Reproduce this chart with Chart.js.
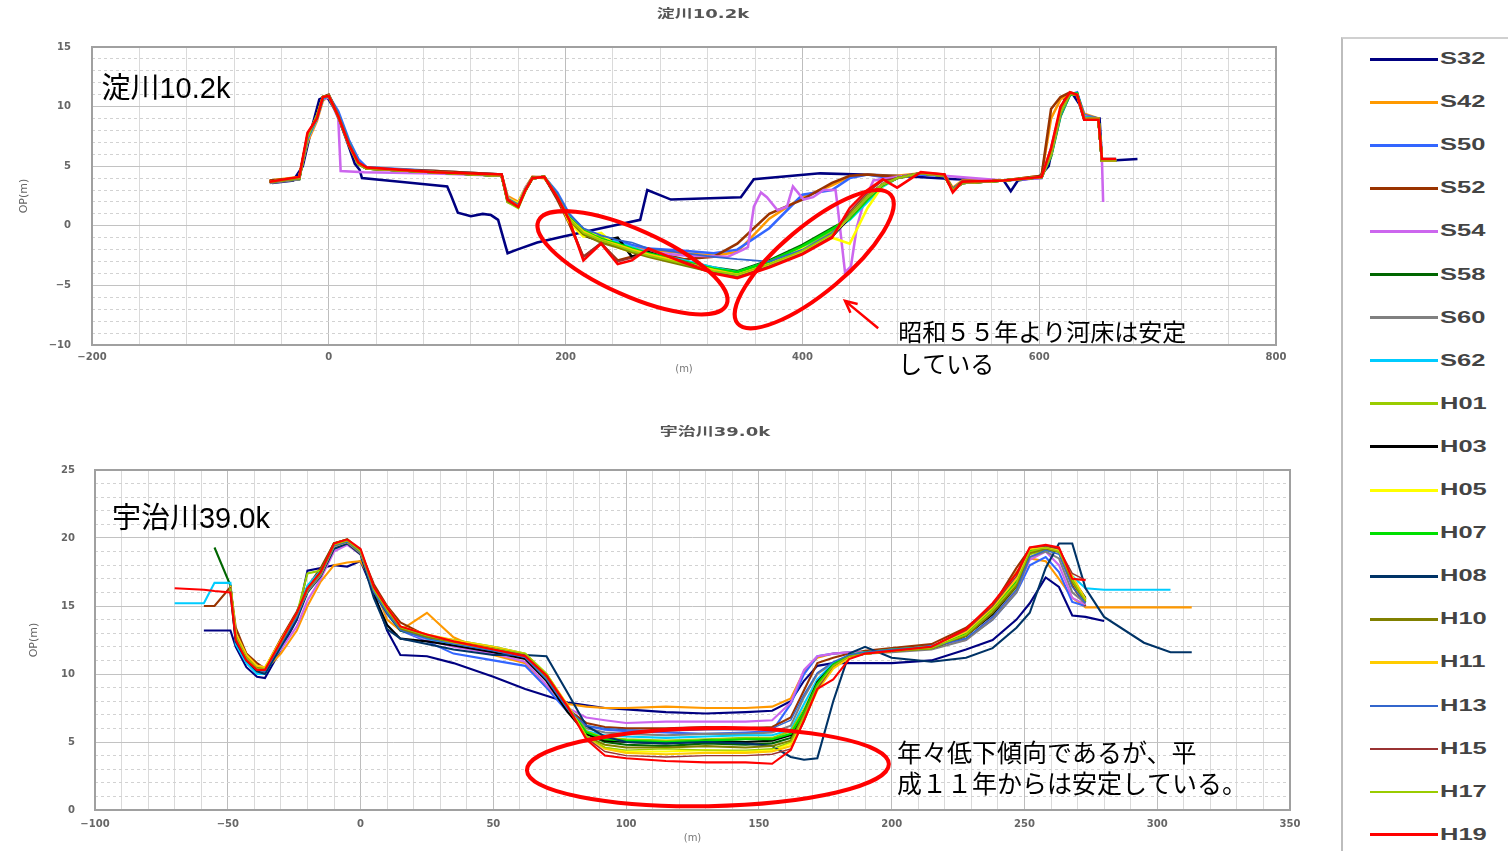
<!DOCTYPE html>
<html lang="ja">
<head>
<meta charset="utf-8">
<title>淀川10.2k・宇治川39.0k 横断図</title>
<script src="https://cdn.jsdelivr.net/npm/chart.js@4.4.0/dist/chart.umd.min.js"></script>
<style>
  html, body { margin: 0; padding: 0; background: #fff; }
  body { width: 1508px; height: 851px; position: relative; overflow: hidden; }
  #yodo { position: absolute; left: 0; top: 0; }
  #uji { position: absolute; left: 0; top: 420px; }
  #legend { position: absolute; left: 1341px; top: 37px; width: 170px; height: 820px;
            border-left: 2px solid #bdbdbd; border-top: 2px solid #d0d0d0; background: #fff; }
  .item { position: absolute; left: 27px; height: 20px; width: 140px; }
  .item i { position: absolute; left: 0; top: 10px; width: 68px; display: block; }
  .item span { position: absolute; left: 70px; top: 0; line-height: 20px; font: bold 17px "Liberation Sans", Arial, sans-serif;
               color: #444; transform: scaleX(1.5); transform-origin: left center; }
</style>
</head>
<body>
<canvas id="yodo" width="1330" height="400" style="width:1330px;height:400px"></canvas>
<canvas id="uji" width="1330" height="431" style="width:1330px;height:431px"></canvas>
<div id="legend"></div>
<script>
// survey years (legend order)
const years = ['S32','S42','S50','S52','S54','S58','S60','S62','H01','H03','H05','H07','H08','H10','H11','H13','H15','H17','H19'];
const colors = ['#000080','#ff9900','#3366ff','#993300','#cc66ee','#006600','#808080','#00ccff','#99cc00','#000000',
                '#ffff00','#00e000','#003366','#808000','#ffcc00','#3366cc','#993333','#99cc00','#ff0000'];
const widths = [3,3,3,3,3,3,3,3,3,3,3,3,3,3,3,2,2,2,3];

// 淀川10.2k  distance (m) / OP (m)
const yodoXTicks = [-200, 0, 200, 400, 600, 800];
const yodoStations = [-50,-25,-18,-10,-5,0,8,17,25,32,90,146,151,160,166,172,182,193,203,215,230,244,256,270,300,
  325,345,372,400,425,440,455,468,480,500,520,527,535,570,602,610,618,626,632,638,650,653,665];
const yodoS32X = [-48,-30,-22,-15,-8,-2,6,15,22,26,28,60,100,103,109,120,130,137,143,151,159,176,198,230,263,269,289,
  348,359,415,450,480,530,570,576,582,600,608,615,622,628,634,638,651,653,665,683];
const yodoS32Y = [3.6,3.8,5.0,8.0,10.6,10.9,9.6,7.2,5.2,4.7,4.0,3.7,3.3,2.6,1.1,0.8,1.0,0.9,0.5,-2.3,-2.0,-1.4,-0.9,-0.2,0.5,
  3.0,2.2,2.4,3.9,4.4,4.3,4.2,3.9,3.8,2.9,3.8,4.1,5.0,8.5,10.8,11.1,10.2,8.9,9.0,5.5,5.5,5.6];
const yodoS54X = [-50,-25,-18,-10,-5,0,8,10,30,90,146,151,160,166,172,182,193,203,215,244,270,300,337,350,354,359,365,370,
  379,387,392,401,409,418,428,430,436,441,446,452,460,480,500,520,570,602,610,618,626,632,638,650,653,654];
const yodoS54Y = [3.7,4.0,7.2,9.0,10.6,10.8,9.0,4.6,4.5,4.4,4.2,2.4,1.8,3.2,4.0,4.1,2.6,0.9,-0.6,-1.5,-2.2,-2.5,-2.6,-2.0,-1.8,
  1.6,2.8,2.4,1.3,1.6,3.3,2.2,2.4,3.0,3.0,1.4,-3.9,-3.4,-0.1,2.0,3.8,4.1,4.4,4.2,3.8,4.0,6.5,9.8,11.0,11.0,9.2,9.0,5.5,2.0];
const yodoS42 = [3.8,4.1,7.0,8.8,10.5,10.9,9.4,7.0,5.4,4.8,4.6,4.3,2.5,2.0,3.2,4.1,4.0,2.6,0.4,-0.8,-1.2,-1.4,-1.8,-2.0,-2.3,
  -2.5,-2.2,0.6,2.4,3.4,4.1,4.3,4.2,4.2,4.4,4.3,3.2,3.8,3.8,4.2,9.0,10.6,11.1,11.0,9.4,9.0,5.6,5.6];
const yodoS50 = [3.7,4.0,7.3,9.0,10.7,10.9,9.6,7.2,5.6,4.9,4.6,4.3,2.3,1.8,3.0,4.0,4.1,2.8,1.0,-0.3,-0.9,-1.2,-1.6,-1.9,-2.1,
  -2.3,-2.0,-0.2,2.6,3.0,4.0,4.3,4.1,4.1,4.3,4.2,3.1,3.7,3.8,4.0,6.5,9.5,11.0,11.2,9.3,9.0,5.6,5.6];
const yodoS52 = [3.8,4.0,7.6,9.1,10.8,11.0,9.3,7.0,5.3,4.8,4.6,4.3,2.0,1.6,3.1,4.1,4.1,2.2,0.2,-2.6,-1.5,-2.9,-2.6,-2.1,-2.8,
  -2.6,-1.5,1.0,2.2,3.6,4.2,4.3,4.2,4.1,4.4,4.3,3.0,3.7,3.8,4.2,9.8,10.8,11.2,11.0,9.2,9.0,5.5,5.5];
const yodoS58 = [3.7,3.9,7.4,9.1,10.7,10.9,9.2,6.9,5.2,4.8,4.5,4.2,2.1,1.6,3.0,4.0,4.1,2.6,0.8,-0.4,-1.1,-1.5,-1.9,-2.4,-3.0,
  -3.5,-3.8,-2.9,-1.6,-0.2,0.6,2.2,3.4,4.0,4.4,4.2,3.0,3.6,3.8,4.1,5.8,9.2,11.0,11.1,9.1,9.0,5.5,5.5];
const yodoS60 = [3.6,3.9,7.5,9.2,10.8,10.9,9.1,6.8,5.2,4.8,4.5,4.2,2.2,1.8,3.0,4.0,4.1,2.5,0.7,-0.5,-1.2,-1.6,-2.0,-2.4,-3.1,
  -3.6,-4.0,-3.2,-2.0,-0.6,0.9,2.5,3.5,4.0,4.4,4.2,3.0,3.6,3.8,4.1,6.0,9.4,11.1,11.0,9.0,9.0,5.5,5.5];
const yodoS62 = [3.7,4.0,7.3,9.0,10.7,10.9,9.3,7.0,5.3,4.9,4.5,4.2,2.3,1.8,3.1,4.0,4.1,2.6,0.9,-0.3,-1.0,-1.4,-1.8,-2.3,-2.9,
  -3.5,-3.9,-3.0,-1.8,-0.5,0.5,2.0,3.3,4.0,4.4,4.2,3.0,3.6,3.8,4.1,5.9,9.3,11.0,11.1,9.1,9.0,5.5,5.5];
const yodoH01 = [3.7,4.0,7.4,9.2,10.8,10.9,9.2,6.8,5.2,4.8,4.5,4.2,2.0,1.5,2.9,4.0,4.1,2.4,0.5,-0.3,-0.9,-1.7,-2.1,-2.5,-3.2,
  -3.8,-4.1,-3.2,-2.0,-0.5,1.0,2.5,3.5,4.0,4.4,4.2,3.0,3.6,3.8,4.1,6.2,9.6,11.1,11.0,9.0,9.0,5.5,5.5];
const yodoH03 = [3.7,4.0,7.5,9.2,10.8,10.9,9.2,6.8,5.2,4.8,4.5,4.2,2.2,1.7,3.0,4.0,4.1,2.4,0.6,-0.8,-1.3,-1.0,-2.6,-2.2,-3.2,
  -3.9,-4.2,-3.4,-2.3,-0.9,0.7,2.4,3.5,4.0,4.4,4.2,3.0,3.6,3.8,4.1,6.0,9.5,11.1,11.0,9.0,9.0,5.5,5.5];
const yodoH05 = [3.7,4.0,7.4,9.2,10.8,10.9,9.2,6.8,5.2,4.8,4.5,4.2,2.3,1.9,3.1,4.0,4.1,2.5,0.3,-0.9,-0.6,-1.8,-2.2,-2.5,-3.1,
  -3.7,-4.0,-3.1,-1.9,-1.0,-1.5,1.5,3.4,4.0,4.4,4.2,3.0,3.6,3.8,4.1,6.0,9.5,11.1,11.0,9.0,9.0,5.5,5.5];
const yodoH07 = [3.7,4.0,7.4,9.1,10.8,10.9,9.2,6.9,5.2,4.8,4.5,4.2,2.2,1.7,3.0,4.0,4.1,2.5,0.7,-0.4,-1.1,-1.5,-1.9,-2.3,-3.0,
  -3.6,-3.9,-3.0,-1.7,-0.3,0.6,2.2,3.4,4.0,4.4,4.2,3.0,3.6,3.8,4.1,5.9,9.4,11.0,11.1,9.0,9.0,5.5,5.5];
const yodoH08 = [3.7,4.0,7.5,9.2,10.8,10.9,9.2,6.8,5.2,4.8,4.5,4.2,2.2,1.7,3.0,4.0,4.1,2.4,0.6,-0.6,-1.3,-1.7,-2.1,-2.5,-3.2,
  -3.8,-4.2,-3.4,-2.3,-0.9,0.8,2.4,3.5,4.0,4.4,4.2,3.0,3.6,3.8,4.1,6.0,9.5,11.1,11.0,9.0,9.0,5.5,5.5];
const yodoH10 = [3.7,4.0,7.5,9.2,10.8,10.9,9.2,6.8,5.2,4.8,4.5,4.2,2.1,1.6,3.0,4.0,4.1,2.4,0.5,-0.7,-1.4,-1.8,-2.2,-2.6,-3.3,
  -3.9,-4.2,-3.3,-2.1,-0.7,0.9,2.5,3.5,4.0,4.4,4.2,3.0,3.6,3.8,4.1,6.1,9.6,11.1,11.0,9.0,9.0,5.5,5.5];
const yodoH11 = [3.7,4.0,7.5,9.2,10.8,10.9,9.2,6.8,5.2,4.8,4.5,4.2,2.2,1.7,3.0,4.0,4.1,2.5,0.6,-0.5,-1.2,-1.6,-2.0,-2.4,-3.1,
  -3.7,-4.1,-3.3,-2.2,-0.8,0.8,2.4,3.5,4.0,4.4,4.2,3.0,3.6,3.8,4.1,6.0,9.5,11.1,11.0,9.0,9.0,5.5,5.5];
const yodoH13 = [3.7,4.0,7.3,9.1,10.7,10.9,9.3,7.0,5.3,4.9,4.5,4.2,2.3,1.8,3.1,4.0,4.1,2.7,1.0,-0.2,-0.8,-1.2,-1.4,-1.9,-2.3,
  -2.6,-2.8,-3.0,-2.0,-0.6,0.8,2.4,3.5,4.0,4.4,4.2,3.0,3.6,3.8,4.1,6.0,9.5,11.1,11.0,9.0,9.0,5.5,5.5];
const yodoH15 = [3.7,4.0,7.6,9.2,10.8,10.9,9.2,6.8,5.2,4.8,4.5,4.2,2.1,1.6,3.0,4.0,4.1,2.3,0.5,-2.6,-1.4,-3.0,-2.7,-2.0,-3.0,
  -3.9,-4.3,-3.4,-2.3,-0.9,1.2,2.8,3.8,4.0,4.4,4.2,3.0,3.6,3.8,4.1,6.1,9.6,11.1,11.0,9.0,9.0,5.5,5.5];
const yodoH17 = [3.7,4.0,7.4,9.2,10.8,10.9,9.2,6.8,5.2,4.8,4.5,4.2,2.2,1.7,3.0,4.0,4.1,2.5,0.6,-0.6,-1.2,-1.7,-2.1,-2.5,-3.2,
  -3.8,-4.1,-3.2,-2.1,-0.7,0.8,2.4,3.5,4.0,4.4,4.2,3.0,3.6,3.8,4.1,6.0,9.5,11.1,11.0,9.0,9.0,5.5,5.5];
const yodoH19 = [3.7,4.1,7.8,9.0,10.8,10.9,9.2,6.8,5.3,4.9,4.5,4.3,2.2,1.6,3.0,4.0,4.1,2.4,0.5,-2.9,-1.5,-3.2,-2.9,-1.9,-3.1,
  -4.0,-4.4,-3.5,-2.4,-1.0,1.5,3.0,3.9,3.2,4.5,4.3,2.8,3.7,3.8,4.1,6.5,10.0,11.2,11.0,8.9,8.9,5.6,5.6];

// 宇治川39.0k  distance (m) / OP (m)
const ujiXTicks = [-100, -50, 0, 50, 100, 150, 200, 250, 300, 350];
const ujiStations = [-70,-59,-55,-49,-47,-43,-39,-36,-30,-24,-20,-15,-10,-5,0,5,10,15,25,35,50,62,70,78,85,92,100,115,
  130,145,155,162,167,172,178,184,190,200,215,228,238,247,252,258,263,268,273,280,295,305,313];
const ujiS32 = [null,13.2,13.2,13.2,12.0,10.5,9.8,9.7,11.8,14.0,17.6,17.8,18.0,17.9,18.3,16.0,13.2,11.4,11.3,10.8,9.8,8.9,
  8.4,7.9,7.7,7.5,7.4,7.2,7.1,7.2,7.3,8.0,9.5,10.6,10.8,10.8,10.8,10.8,11.0,11.8,12.5,14.0,15.2,17.1,16.4,14.3,14.2,13.9,null,null,null];
const ujiS42 = [null,null,null,16.2,13.0,11.5,10.6,10.3,11.5,13.2,15.0,16.8,18.0,18.2,18.3,16.5,14.0,13.2,14.5,12.7,11.4,10.8,
  9.0,7.8,7.6,7.5,7.5,7.6,7.5,7.5,7.6,8.2,10.2,11.2,11.5,11.6,11.6,11.8,12.0,12.8,14.8,17.5,18.5,18.3,17.0,15.6,14.9,14.9,14.9,14.9,14.9];
const ujiS50 = [null,null,null,16.5,12.6,11.0,10.2,10.3,12.2,14.3,16.0,17.4,19.2,19.6,18.9,16.0,14.4,13.2,12.4,11.5,11.0,10.6,
  9.0,7.2,6.2,5.9,5.8,5.7,5.6,5.7,5.8,7.8,10.0,11.3,11.5,11.6,11.6,11.8,12.1,12.6,14.0,16.0,18.0,18.6,17.5,15.3,15.0,null,null,null,null];
const ujiS52 = [null,15.0,15.0,16.4,13.4,11.5,10.8,10.4,12.6,14.6,16.4,17.8,19.6,19.9,19.0,16.6,15.0,13.8,12.8,12.2,11.8,11.2,
  9.6,7.4,6.4,6.1,6.0,6.0,6.1,6.0,6.1,6.8,8.8,10.8,11.2,11.5,11.7,11.9,12.2,13.4,15.0,17.8,19.2,19.3,19.0,16.5,15.0,null,null,null,null];
const ujiS54 = [null,null,null,16.3,12.8,11.3,10.6,10.5,11.8,13.5,15.4,17.0,19.0,19.5,18.8,16.2,14.5,13.3,12.5,12.0,11.5,10.9,
  9.2,7.5,6.8,6.6,6.4,6.5,6.5,6.5,6.6,7.9,10.3,11.3,11.5,11.6,11.6,11.8,12.0,12.5,14.2,16.2,18.4,19.0,18.0,15.6,15.1,null,null,null,null];
const ujiS58 = [null,null,19.3,16.5,12.7,11.2,10.3,10.2,12.3,14.5,16.4,17.6,19.6,19.8,19.1,16.0,14.5,13.2,12.7,12.3,11.8,11.3,
  9.7,7.3,5.6,5.0,4.8,4.7,4.9,4.8,4.9,5.3,7.0,9.2,10.6,11.3,11.5,11.7,11.9,13.0,14.6,16.8,19.2,19.4,19.2,17.0,15.6,null,null,null,null];
const ujiS60 = [null,null,null,16.2,12.5,11.0,10.2,10.1,12.0,14.2,16.1,17.3,19.3,19.7,18.9,16.2,14.7,13.4,12.7,12.3,11.7,11.2,
  9.5,7.4,6.0,5.7,5.6,5.5,5.6,5.6,5.7,6.2,8.3,10.0,10.8,11.3,11.5,11.6,11.8,12.5,14.0,16.0,18.6,19.0,18.5,16.0,15.2,null,null,null,null];
const ujiS62 = [15.2,15.2,16.7,16.7,12.2,10.8,10.0,10.0,12.0,14.5,16.5,17.6,19.4,19.7,19.0,16.3,14.6,13.3,12.6,12.2,11.7,11.2,
  9.6,7.3,5.8,5.5,5.4,5.3,5.4,5.5,5.5,5.9,7.8,9.6,10.8,11.4,11.6,11.7,11.9,12.9,14.5,16.6,18.9,19.3,19.0,17.2,16.3,16.2,16.2,16.2,null];
const ujiH01 = [null,null,null,16.4,12.9,11.4,10.5,10.4,12.2,14.4,17.4,17.6,19.5,19.8,19.0,16.1,14.7,13.4,12.7,12.3,11.8,11.3,
  9.8,7.6,5.8,5.3,5.2,5.1,5.2,5.3,5.3,5.8,7.4,9.4,10.6,11.3,11.5,11.7,11.9,12.9,14.4,16.4,18.8,19.1,19.0,16.8,15.3,null,null,null,null];
const ujiH03 = [null,null,null,16.5,12.6,11.2,10.4,10.3,12.3,14.3,16.2,17.5,19.5,19.8,19.0,15.8,13.6,12.6,12.4,12.1,11.6,11.1,
  9.5,7.2,5.6,5.1,5.0,4.9,5.1,5.0,5.1,5.5,7.2,9.4,10.7,11.3,11.5,11.7,11.9,12.8,14.4,16.5,19.0,19.3,19.1,17.0,15.5,null,null,null,null];
const ujiH05 = [null,null,null,16.4,12.8,11.3,10.4,10.4,12.4,14.4,16.2,17.4,19.5,19.8,19.0,16.2,14.8,13.4,12.8,12.4,11.9,11.4,
  9.9,7.6,5.4,4.6,4.3,4.3,4.4,4.3,4.4,4.9,6.8,9.0,10.5,11.2,11.5,11.7,11.9,12.9,14.6,16.6,19.0,19.3,19.0,16.9,15.4,null,null,null,null];
const ujiH07 = [null,null,null,16.4,12.7,11.2,10.3,10.3,12.3,14.4,16.2,17.5,19.6,19.9,19.1,16.2,14.7,13.3,12.8,12.5,12.0,11.5,
  10.0,7.6,5.7,5.2,5.1,5.0,5.1,5.2,5.2,5.6,7.2,9.3,10.7,11.4,11.6,11.8,12.0,13.0,14.8,16.8,19.1,19.3,19.1,17.0,15.4,null,null,null,null];
const ujiH08 = [null,null,null,16.0,12.4,11.0,10.2,10.0,12.0,14.0,16.0,17.2,19.2,19.6,18.8,15.6,13.3,12.6,12.2,11.8,11.4,11.4,
  11.3,8.6,6.2,5.4,5.0,4.9,5.0,4.9,4.7,3.9,3.7,3.8,8.0,11.5,12.0,11.2,10.9,11.2,11.9,13.4,14.5,17.8,19.6,19.6,16.3,14.2,12.3,11.6,11.6];
const ujiH10 = [null,null,null,16.3,12.9,11.3,10.5,10.4,12.4,14.5,16.3,17.4,19.5,19.8,19.0,16.1,14.6,13.3,12.7,12.4,11.9,11.4,
  9.8,7.5,5.4,4.8,4.6,4.6,4.7,4.6,4.7,5.1,7.0,9.1,10.5,11.2,11.5,11.7,11.9,12.8,14.5,16.5,18.9,19.2,19.0,16.8,15.3,null,null,null,null];
const ujiH11 = [null,null,null,16.5,13.0,11.4,10.6,10.5,12.5,14.4,16.1,17.3,19.4,19.7,18.9,16.3,14.9,13.5,12.9,12.5,12.0,11.5,
  10.0,7.7,5.4,4.5,4.2,4.1,4.2,4.2,4.3,4.7,6.6,8.8,10.4,11.2,11.5,11.7,12.0,13.1,14.9,17.0,19.2,19.3,19.1,17.2,15.5,null,null,null,null];
const ujiH13 = [null,null,null,16.4,12.7,11.1,10.3,10.2,12.2,14.2,16.1,17.3,19.4,19.7,18.9,16.0,14.5,13.2,12.6,12.2,11.7,11.2,
  9.6,7.4,6.2,6.0,5.9,5.8,5.9,5.9,6.0,6.6,8.5,10.1,10.9,11.4,11.6,11.8,12.0,12.6,14.2,16.2,18.6,19.1,18.8,16.4,15.2,null,null,null,null];
const ujiH15 = [null,null,null,16.4,12.8,11.2,10.4,10.3,12.3,14.4,16.2,17.4,19.5,19.8,19.0,16.3,14.8,13.4,12.8,12.4,11.9,11.4,
  9.9,7.6,5.3,4.3,4.0,3.9,4.0,4.0,4.1,4.5,6.5,8.9,10.6,11.3,11.5,11.7,12.0,13.2,15.0,17.2,19.3,19.4,19.2,17.4,16.9,null,null,null,null];
const ujiH17 = [null,null,null,16.3,12.8,11.2,10.4,10.4,12.3,14.4,16.2,17.4,19.5,19.8,19.0,16.2,14.7,13.4,12.8,12.4,11.9,11.5,
  10.0,7.6,5.4,4.6,4.4,4.5,4.4,4.4,4.5,5.0,6.9,9.1,10.6,11.3,11.5,11.7,11.9,12.9,14.7,16.7,19.0,19.3,19.0,16.9,15.4,null,null,null,null];
const ujiH19 = [16.3,16.2,16.1,16.0,12.5,11.0,10.3,10.3,12.4,14.5,16.3,17.5,19.6,19.9,19.2,16.4,14.9,13.5,12.9,12.4,11.8,11.3,
  9.9,7.6,5.2,4.0,3.8,3.6,3.5,3.5,3.4,4.4,6.6,8.9,9.6,11.1,11.5,11.7,12.0,13.3,15.2,17.4,19.3,19.5,19.3,17.0,16.9,null,null,null,null];

function toPoints(xs, ys) {
  return xs.map(function (x, i) { return {x: x, y: ys[i]}; });
}

const yodoTable = {
  S32: toPoints(yodoS32X, yodoS32Y), S42: toPoints(yodoStations, yodoS42), S50: toPoints(yodoStations, yodoS50),
  S52: toPoints(yodoStations, yodoS52), S54: toPoints(yodoS54X, yodoS54Y), S58: toPoints(yodoStations, yodoS58),
  S60: toPoints(yodoStations, yodoS60), S62: toPoints(yodoStations, yodoS62), H01: toPoints(yodoStations, yodoH01),
  H03: toPoints(yodoStations, yodoH03), H05: toPoints(yodoStations, yodoH05), H07: toPoints(yodoStations, yodoH07),
  H08: toPoints(yodoStations, yodoH08), H10: toPoints(yodoStations, yodoH10), H11: toPoints(yodoStations, yodoH11),
  H13: toPoints(yodoStations, yodoH13), H15: toPoints(yodoStations, yodoH15), H17: toPoints(yodoStations, yodoH17),
  H19: toPoints(yodoStations, yodoH19)
};
const ujiTable = {
  S32: toPoints(ujiStations, ujiS32), S42: toPoints(ujiStations, ujiS42), S50: toPoints(ujiStations, ujiS50),
  S52: toPoints(ujiStations, ujiS52), S54: toPoints(ujiStations, ujiS54), S58: toPoints(ujiStations, ujiS58),
  S60: toPoints(ujiStations, ujiS60), S62: toPoints(ujiStations, ujiS62), H01: toPoints(ujiStations, ujiH01),
  H03: toPoints(ujiStations, ujiH03), H05: toPoints(ujiStations, ujiH05), H07: toPoints(ujiStations, ujiH07),
  H08: toPoints(ujiStations, ujiH08), H10: toPoints(ujiStations, ujiH10), H11: toPoints(ujiStations, ujiH11),
  H13: toPoints(ujiStations, ujiH13), H15: toPoints(ujiStations, ujiH15), H17: toPoints(ujiStations, ujiH17),
  H19: toPoints(ujiStations, ujiH19)
};

Chart.defaults.font.family = '"DejaVu Sans", "Noto Sans CJK JP", sans-serif';
Chart.defaults.color = '#666';

function signed(v) {
  return v < 0 ? '\u2212' + Math.abs(v) : String(v);
}

function seriesSets(table, scale) {
  return years.map(function (name, i) {
    return {
      label: name,
      data: table[name],
      borderColor: colors[i],
      backgroundColor: colors[i],
      borderWidth: widths[i] * scale,
      pointRadius: 0,
      showLine: true,
      fill: false,
      tension: 0,
      spanGaps: false,
      order: years.length - i
    };
  });
}

function axes(o) {
  return {
    x: {
      type: 'linear', position: 'bottom', min: o.xMin, max: o.xMax,
      afterFit: function (s) { s.height = o.xHeight; },
      ticks: {
        stepSize: o.xStep, autoSkip: false, maxRotation: 0, padding: o.xPad,
        font: {size: 10, weight: 'bold'}, color: '#666',
        callback: function (v) { return o.xTicks.indexOf(v) >= 0 ? signed(v) : ''; }
      },
      grid: {
        drawTicks: false,
        color: function (c) { return o.xTicks.indexOf(c.tick.value) >= 0 ? '#bdbdbd' : '#dadada'; }
      },
      border: {display: false},
      title: {display: true, text: '(m)', font: {size: 10}, color: '#777', padding: {top: 0, bottom: o.xTitlePad}}
    },
    y: {
      type: 'linear', position: 'left', min: o.yMin, max: o.yMax,
      afterFit: function (s) { s.width = o.yWidth; },
      ticks: {
        stepSize: 5, autoSkip: false, padding: o.yPad, font: {size: 10, weight: 'bold'}, color: '#666',
        callback: function (v) { return signed(v); }
      },
      grid: {drawTicks: false, color: '#c2c2c2'},
      border: {display: false},
      title: {display: true, text: 'OP(m)', font: {size: 11}, color: '#666', padding: {top: o.yTitlePad, bottom: 0}}
    },
    ym: {
      type: 'linear', position: 'left', min: o.yMin, max: o.yMax,
      ticks: {display: false, stepSize: 1, autoSkip: false},
      grid: {
        drawTicks: false,
        color: function (c) { return c.tick.value % 5 === 0 ? 'rgba(0,0,0,0)' : '#d2d2d2'; }
      },
      border: {display: false, dash: [3, 3]}
    }
  };
}

// frame, heading, river label, red rings, arrow and notes
const notePlugin = {
  id: 'notes',
  beforeDatasetsDraw: function (chart) {
    const a = chart.chartArea, ctx = chart.ctx;
    ctx.save();
    ctx.strokeStyle = '#a0a0a0';
    ctx.lineWidth = 2;
    ctx.strokeRect(a.left, a.top, a.right - a.left, a.bottom - a.top);
    ctx.restore();
  },
  afterDatasetsDraw: function (chart, args, o) {
    const ctx = chart.ctx, x = chart.scales.x, y = chart.scales.y;
    ctx.save();
    ctx.textBaseline = 'middle';

    // heading (stretched like the source image)
    ctx.save();
    ctx.translate(o.headAt[0], o.headAt[1]);
    ctx.scale(1.5, 1);
    ctx.textAlign = 'center';
    ctx.fillStyle = '#555';
    ctx.font = 'bold 12px "DejaVu Sans", "Noto Sans CJK JP", sans-serif';
    ctx.fillText(o.head, 0, 0);
    ctx.restore();

    ctx.textAlign = 'left';
    ctx.fillStyle = '#000';
    ctx.font = '29px "Liberation Sans", "Noto Sans CJK JP", sans-serif';
    ctx.fillText(o.name, x.getPixelForValue(o.nameAt[0]), y.getPixelForValue(o.nameAt[1]));

    ctx.strokeStyle = '#ff0000';
    ctx.lineWidth = 4;
    o.rings.forEach(function (r) {
      ctx.beginPath();
      ctx.ellipse(x.getPixelForValue(r[0]), y.getPixelForValue(r[1]), r[2], r[3], r[4] * Math.PI / 180, 0, Math.PI * 2);
      ctx.stroke();
    });

    if (o.arrow) {
      const x1 = x.getPixelForValue(o.arrow[0][0]), y1 = y.getPixelForValue(o.arrow[0][1]);
      const x2 = x.getPixelForValue(o.arrow[1][0]), y2 = y.getPixelForValue(o.arrow[1][1]);
      const ang = Math.atan2(y2 - y1, x2 - x1);
      ctx.lineWidth = 2.5;
      ctx.beginPath();
      ctx.moveTo(x1, y1);
      ctx.lineTo(x2, y2);
      ctx.moveTo(x2 - 13 * Math.cos(ang - 0.45), y2 - 13 * Math.sin(ang - 0.45));
      ctx.lineTo(x2, y2);
      ctx.lineTo(x2 - 13 * Math.cos(ang + 0.45), y2 - 13 * Math.sin(ang + 0.45));
      ctx.stroke();
    }

    ctx.font = o.noteSize + 'px "Noto Sans CJK JP", sans-serif';
    o.note.forEach(function (t, i) {
      ctx.fillText(t, x.getPixelForValue(o.noteAt[0]), y.getPixelForValue(o.noteAt[1]) + i * o.noteGap);
    });
    ctx.restore();
  }
};

new Chart(document.getElementById('yodo'), {
  type: 'scatter',
  data: {datasets: seriesSets(yodoTable, 0.85)},
  options: {
    responsive: false, animation: false, devicePixelRatio: 1,
    layout: {padding: {top: 47, right: 54, bottom: 0, left: 0}},
    scales: axes({xMin: -200, xMax: 800, xStep: 40, xTicks: yodoXTicks, xHeight: 55, xPad: 6, xTitlePad: 25,
                  yMin: -10, yMax: 15, yWidth: 92, yPad: 21, yTitlePad: 18}),
    plugins: {
      legend: {display: false},
      tooltip: {enabled: false},
      notes: {
        head: '淀川10.2k', headAt: [703, 15],
        name: '淀川10.2k', nameAt: [-192, 11.4],
        rings: [[256.5, -3.1, 103, 33, 24], [410, -2.8, 100, 33, -40]],
        arrow: [[464, -8.6], [436, -6.3]],
        note: ['昭和５５年より河床は安定', 'している'], noteAt: [481, -8.9], noteGap: 32, noteSize: 24
      }
    }
  },
  plugins: [notePlugin]
});

new Chart(document.getElementById('uji'), {
  type: 'scatter',
  data: {datasets: seriesSets(ujiTable, 0.7)},
  options: {
    responsive: false, animation: false, devicePixelRatio: 1,
    layout: {padding: {top: 50, right: 40, bottom: 0, left: 0}},
    scales: axes({xMin: -100, xMax: 350, xStep: 10, xTicks: ujiXTicks, xHeight: 41, xPad: 8, xTitlePad: 7,
                  yMin: 0, yMax: 25, yWidth: 95, yPad: 20, yTitlePad: 28}),
    plugins: {
      legend: {display: false},
      tooltip: {enabled: false},
      notes: {
        head: '宇治川39.0k', headAt: [715, 13],
        name: '宇治川39.0k', nameAt: [-93.6, 21.3],
        rings: [[130.8, 3.15, 181, 39, -1]],
        arrow: null,
        note: ['年々低下傾向であるが、平', '成１１年からは安定している。'], noteAt: [202, 4.26], noteGap: 31, noteSize: 25
      }
    }
  },
  plugins: [notePlugin]
});

// legend panel from the same series lists
const legendBox = document.getElementById('legend');
years.forEach(function (name, i) {
  const row = document.createElement('div');
  row.className = 'item';
  row.style.top = (10 + i * 43.1) + 'px';
  row.innerHTML = '<i style="background:' + colors[i] + ';height:' + widths[i] + 'px;margin-top:' + (-widths[i] / 2) +
    'px"></i><span>' + name + '</span>';
  legendBox.appendChild(row);
});
</script>
</body>
</html>
